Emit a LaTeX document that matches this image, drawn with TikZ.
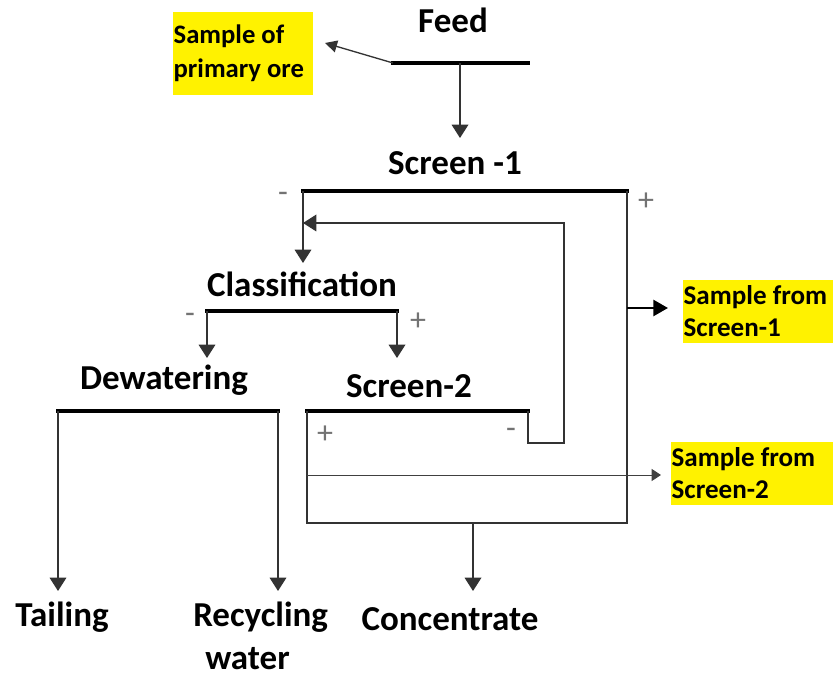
\documentclass[tikz,border=0pt]{standalone}
\usepackage{fontspec}
\setmainfont{Carlito}
\usetikzlibrary{arrows.meta}
\begin{document}
\begin{tikzpicture}[x=0.75pt,y=-0.75pt,
  ttl/.style={font=\fontsize{26.25}{30}\selectfont\bfseries, inner sep=0pt, anchor=base},
  samp/.style={fill=yellow, font=\fontsize{20.3}{24}\selectfont\bfseries, align=flush left, inner xsep=0.5pt, inner ysep=0pt},
  bar/.style={line width=2.4pt, line cap=rect},
  ln/.style={line width=1pt, draw=black!80},
  flow/.style={ln, -{Triangle[width=12.5pt,length=10pt]}},
  pm/.style={font=\fontsize{24}{24}\selectfont, text=black!55, inner sep=0pt}
]
\useasboundingbox (0,0) rectangle (833,677);

% ---- text nodes ----
\node[ttl] (feed) at (453,33) {Feed};
\node[ttl] (scr1) at (455,175) {Screen -1};
\node[ttl] (clas) at (302,297) {Classification};
\node[ttl] (dewa) at (164,390) {Dewatering};
\node[ttl] (scr2) at (409,398) {Screen-2};
\node[ttl] (tail) at (62,627) {Tailing};
\node[ttl, align=flush left, anchor=base west] (recy) at (193,669) {Recycling\\[2pt]\hspace*{9pt}water};
\node[ttl] (conc) at (450,630) {Concentrate};

% ---- sample boxes ----
\node[samp, font=\fontsize{20}{25.5}\selectfont\bfseries, minimum width=105pt, minimum height=62.25pt, text width=104pt] (samp1) at (243,53.5) {Sample of\\primary ore};
\node[samp, minimum width=112.5pt, minimum height=47.25pt, text width=111.5pt] (samp2) at (758,311.5) {Sample from\\Screen-1};
\node[samp, minimum width=121.5pt, minimum height=47.25pt, text width=120.5pt] (samp3) at (752,473.5) {Sample from\\Screen-2};

% ---- plus / minus signs ----
\node[pm] (m1) at (283,197) {-};
\node[pm] (p1) at (646,202) {+};
\node[pm] (m2) at (190,318) {-};
\node[pm] (p2) at (418,322) {+};
\node[pm] (p3) at (325,435) {+};
\node[pm] (m3) at (511,433) {-};

% ---- coordinates ----
\coordinate (feedL) at (393,63);
\coordinate (feedR) at (528,63);
\coordinate (feedM) at (460,63);
\coordinate (feedOut) at (460,138);
\coordinate (sampTip) at (325,43);
\coordinate (s1L) at (303,191);
\coordinate (s1R) at (627,191);
\coordinate (s1Down) at (303,263);
\coordinate (boxBR) at (627,523);
\coordinate (boxBL) at (307,523);
\coordinate (s2L) at (307,411);
\coordinate (s2R) at (528,411);
\coordinate (recA) at (528,443);
\coordinate (recB) at (564,443);
\coordinate (recC) at (564,223);
\coordinate (recTip) at (303,223);
\coordinate (cL) at (207,311);
\coordinate (cR) at (397,311);
\coordinate (cLd) at (207,358);
\coordinate (cRd) at (397,358);
\coordinate (dL) at (58,411);
\coordinate (dR) at (278,411);
\coordinate (dLd) at (58,591);
\coordinate (dRd) at (278,591);
\coordinate (cTop) at (473,523);
\coordinate (cTip) at (473,591);
\coordinate (o1) at (627,308);
\coordinate (o1t) at (668,308);
\coordinate (o2) at (307,475);
\coordinate (o2t) at (661,475);

% ---- bars ----
\draw[bar, line width=3.4pt] (feedL) -- (feedR);
\draw[bar] (s1L) -- (s1R);
\draw[bar] (cL) -- (cR);
\draw[bar] (dL) -- (dR);
\draw[bar] (s2L) -- (s2R);

% ---- flows ----
\draw[flow] (feedM) -- (feedOut);
\draw[ln, -{Triangle[width=9pt,length=9pt]}] (feedL) -- (sampTip);
\draw[flow] (s1L) -- (s1Down);
\draw[ln] (s1R) -- (boxBR) -- (boxBL) -- (s2L);
\draw[ln, -{Triangle[width=12.5pt,length=10pt]}] (s2R) -- (recA) -- (recB) -- (recC) -- (recTip);
\draw[flow] (cL) -- (cLd);
\draw[flow] (cR) -- (cRd);
\draw[flow] (dL) -- (dLd);
\draw[flow] (dR) -- (dRd);
\draw[flow] (cTop) -- (cTip);
\draw[line width=2pt, -{Triangle[width=12pt,length=11pt]}] (o1) -- (o1t);
\draw[line width=0.7pt, draw=black!75, -{Triangle[width=9pt,length=7pt]}] (o2) -- (o2t);
\end{tikzpicture}
\end{document}
